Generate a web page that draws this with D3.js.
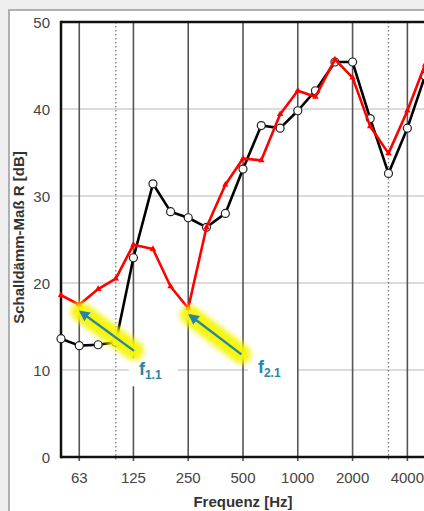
<!DOCTYPE html>
<html>
<head>
<meta charset="utf-8">
<script src="https://cdn.jsdelivr.net/npm/d3@7"></script>
<style>
  body { margin: 0; background: #efefef; }
  svg { display: block; font-family: "Liberation Sans", Arial, sans-serif; }
</style>
</head>
<body>
<svg id="chart" width="424" height="511"></svg>
<script>
// third-octave bands, 50 Hz .. 5000 Hz
const freqs = [50, 63, 80, 100, 125, 160, 200, 250, 315, 400, 500, 630, 800, 1000, 1250, 1600, 2000, 2500, 3150, 4000, 5000];
const measBlack = [13.6, 12.8, 12.9, 13.2, 22.9, 31.4, 28.2, 27.5, 26.4, 28.0, 33.1, 38.1, 37.8, 39.8, 42.1, 45.4, 45.4, 38.9, 32.6, 37.8, 43.8];
const measRed = [18.6, 17.5, 19.3, 20.5, 24.4, 23.9, 19.6, 17.1, 26.4, 31.3, 34.3, 34.1, 39.4, 42.1, 41.4, 45.7, 43.6, 38.0, 34.9, 39.8, 45.1];
const octTicks = [63, 125, 250, 500, 1000, 2000, 4000];
const dottedTicks = [100, 3150];
const yTicks = [0, 10, 20, 30, 40, 50];
// annotations: arrow tail -> tip and label anchor, as [freq, dB]
const notes = [
  {sub: "1.1", from: [126, 12.2], to: [64, 16.7], label: [134, 9.4]},
  {sub: "2.1", from: [490, 11.8], to: [255, 16.3], label: [604, 9.7]}
];

const width = 424, height = 511;
const pLeft = 61, pRight = 425, pTop = 22, pBottom = 457;

const svg = d3.select('#chart');
const x = d3.scaleLog().domain([50, 5000]).range([pLeft, pRight]);
const y = d3.scaleLinear().domain([0, 50]).range([pBottom, pTop]);

// figure frame
svg.append('rect').attr('x', 9).attr('y', 10).attr('width', width + 20).attr('height', height + 20)
  .attr('fill', '#fff').attr('stroke', '#999').attr('stroke-width', 1.5);

// horizontal grid
svg.append('g').selectAll('line').data(yTicks.slice(1, -1)).join('line')
  .attr('x1', pLeft).attr('x2', width).attr('y1', d => y(d)).attr('y2', d => y(d))
  .attr('stroke', '#cfcfcf').attr('stroke-width', 1.5);

// vertical octave lines (with small tick below axis)
svg.append('g').selectAll('line').data(octTicks).join('line')
  .attr('x1', d => x(d)).attr('x2', d => x(d)).attr('y1', pTop).attr('y2', pBottom + 4)
  .attr('stroke', '#555').attr('stroke-width', 1.6);

svg.append('g').selectAll('line').data(dottedTicks).join('line')
  .attr('x1', d => x(d)).attr('x2', d => x(d)).attr('y1', pTop).attr('y2', pBottom + 4)
  .attr('stroke', '#777').attr('stroke-width', 1.3).attr('stroke-dasharray', '1.5,2.5');

// white boxes behind the labels
const labBox = svg.append('g');

// plot frame
svg.append('line').attr('x1', pLeft).attr('x2', width).attr('y1', pTop).attr('y2', pTop)
  .attr('stroke', '#111').attr('stroke-width', 2.5);
svg.append('line').attr('x1', pLeft).attr('x2', width).attr('y1', pBottom).attr('y2', pBottom)
  .attr('stroke', '#111').attr('stroke-width', 2.5);
svg.append('line').attr('x1', pLeft).attr('x2', pLeft).attr('y1', pTop - 1.2).attr('y2', pBottom + 1.2)
  .attr('stroke', '#111').attr('stroke-width', 2.5);

// tick labels
svg.append('g').selectAll('text').data(yTicks).join('text')
  .attr('x', 50).attr('y', d => y(d) + 5.5).attr('text-anchor', 'end')
  .attr('font-size', 15).attr('fill', '#444').text(d => d);
svg.append('g').selectAll('text').data(octTicks).join('text')
  .attr('x', d => x(d)).attr('y', 483).attr('text-anchor', 'middle')
  .attr('font-size', 15).attr('fill', '#444').text(d => d);

// axis titles
svg.append('text').attr('x', (pLeft + pRight) / 2).attr('y', 507).attr('text-anchor', 'middle')
  .attr('font-size', 15).attr('font-weight', 'bold').attr('fill', '#333').text('Frequenz [Hz]');
svg.append('text').attr('transform', `translate(24,${(pTop + pBottom) / 2 - 2}) rotate(-90)`)
  .attr('text-anchor', 'middle').attr('font-size', 15).attr('font-weight', 'bold')
  .attr('fill', '#333').text('Schalldämm-Maß R [dB]');

// data lines
const line = d3.line().x((d, i) => x(freqs[i])).y(d => y(d));
const bData = measBlack.map((v, i) => ({f: freqs[i], v}));
const rData = measRed.map((v, i) => ({f: freqs[i], v}));

svg.append('path').attr('d', line(measBlack)).attr('fill', 'none')
  .attr('stroke', '#000').attr('stroke-width', 2.6).attr('stroke-linejoin', 'round');
svg.append('g').selectAll('circle').data(bData).join('circle')
  .attr('cx', d => x(d.f)).attr('cy', d => y(d.v)).attr('r', 4)
  .attr('fill', '#fff').attr('stroke', '#222').attr('stroke-width', 1.2);

svg.append('path').attr('d', line(measRed)).attr('fill', 'none')
  .attr('stroke', '#ff0000').attr('stroke-width', 2.6).attr('stroke-linejoin', 'round');
svg.append('g').selectAll('path').data(rData).join('path')
  .attr('transform', d => `translate(${x(d.f)},${y(d.v)})`)
  .attr('d', d3.symbol(d3.symbolTriangle, 18)).attr('fill', '#ff0000');

// annotations
const defs = svg.append('defs');
defs.append('filter').attr('id', 'glow').attr('x', '-30%').attr('y', '-30%').attr('width', '160%').attr('height', '160%')
  .append('feGaussianBlur').attr('stdDeviation', 2.5);
defs.append('marker').attr('id', 'head').attr('viewBox', '0 0 10 10').attr('refX', 8).attr('refY', 5)
  .attr('markerWidth', 4.5).attr('markerHeight', 4.5).attr('orient', 'auto')
  .append('path').attr('d', 'M0,0 L10,5 L0,10 z').attr('fill', '#2a84a6');

notes.forEach(n => {
  const x1 = x(n.from[0]), y1 = y(n.from[1]), x2 = x(n.to[0]), y2 = y(n.to[1]);
  const lx = x(n.label[0]), ly = y(n.label[1]);
  labBox.append('rect').attr('x', lx - 10).attr('y', ly - 17).attr('width', 49).attr('height', 28).attr('fill', '#fff');
  svg.append('line').attr('x1', x1).attr('y1', y1).attr('x2', x2).attr('y2', y2)
    .attr('stroke', '#f2f200').attr('stroke-opacity', 0.8).attr('stroke-width', 20).attr('stroke-linecap', 'round')
    .attr('filter', 'url(#glow)');
  svg.append('line').attr('x1', x1).attr('y1', y1).attr('x2', x2).attr('y2', y2)
    .attr('stroke', '#f8f800').attr('stroke-width', 11).attr('stroke-linecap', 'round')
    .attr('filter', 'url(#glow)');
  svg.append('line').attr('x1', x1).attr('y1', y1).attr('x2', x2).attr('y2', y2)
    .attr('stroke', '#2a84a6').attr('stroke-width', 2.4).attr('marker-end', 'url(#head)');
  const t = svg.append('text').attr('x', lx).attr('y', ly)
    .attr('fill', '#2a84a6').attr('font-weight', 'bold').attr('font-size', 18);
  t.append('tspan').text('f');
  t.append('tspan').attr('font-size', 12).attr('dy', 4).text(n.sub);
});
</script>
</body>
</html>
